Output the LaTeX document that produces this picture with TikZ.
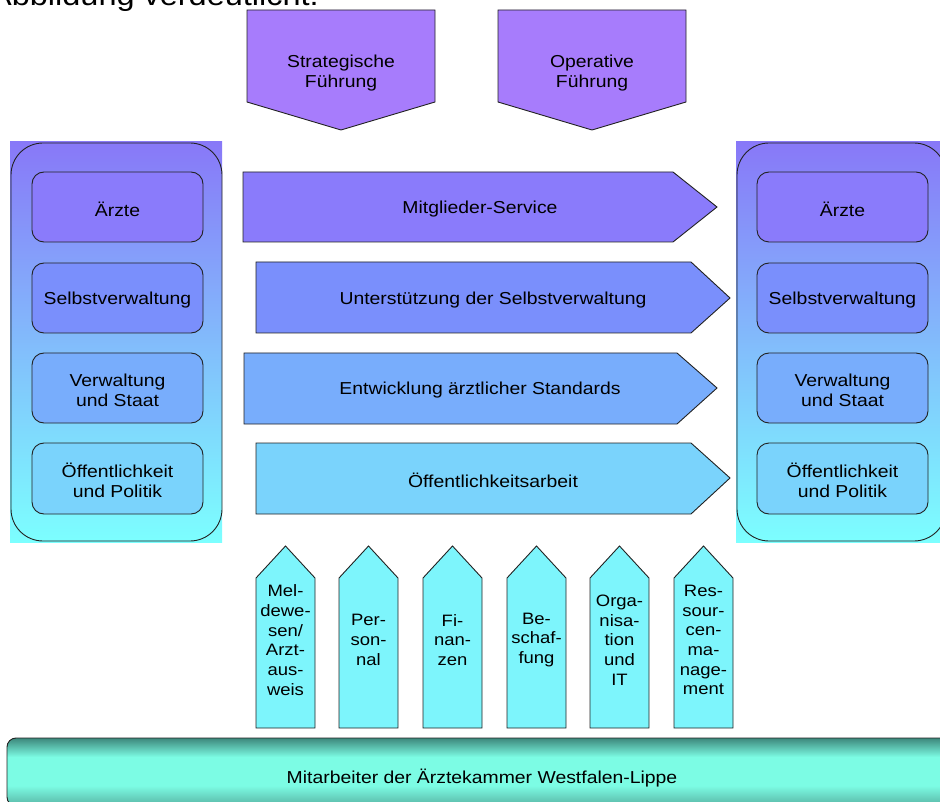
\documentclass[tikz,border=0pt]{standalone}
\usepackage{fontspec}
\setmainfont{Liberation Sans}[FakeStretch=1.12]
\definecolor{lilac}{HTML}{A77CFC}
\definecolor{cA}{HTML}{8A7BFB}
\definecolor{cB}{HTML}{7A8FFC}
\definecolor{cC}{HTML}{78ADFC}
\definecolor{cD}{HTML}{7AD3FC}
\definecolor{support}{HTML}{7DF5FC}
\definecolor{panelTop}{HTML}{8878F8}
\definecolor{panelMid}{HTML}{80B2FC}
\definecolor{panelBot}{HTML}{7CFFFF}
\definecolor{barDark}{HTML}{3D887C}
\definecolor{barLight}{HTML}{7CFCE4}
\definecolor{barLow}{HTML}{58B4A4}
\definecolor{edgegray}{HTML}{222222}
% staff bar: dark rim at the top, bright band, slightly darker bottom
\pgfdeclareverticalshading{barshade}{100bp}{
  color(0bp)=(barLow); color(25bp)=(barLow); color(40bp)=(barLight);
  color(61bp)=(barLight); color(75bp)=(barDark); color(100bp)=(barDark)}
\tikzset{
  edge/.style={draw=edgegray, line width=0.9pt},
  lbl/.style={font=\fontsize{17.3}{20}\selectfont, align=center, inner sep=0pt, yshift=-2.5pt},
  smalllbl/.style={font=\fontsize{16.5}{19.7}\selectfont, align=center, inner sep=0pt, yshift=-3pt},
  innerbox/.style={edge, rounded corners=12pt},
  panelframe/.style={edge, rounded corners=32pt},
}
\begin{document}
\begin{tikzpicture}[x=1pt,y=-1pt]
\useasboundingbox (0,0) rectangle (940,802);

% running text above the figure
\node[anchor=base west, inner sep=0pt, font=\fontsize{29}{34}\selectfont] (caption) at (-10,6) {Abbildung verdeutlicht.};

% management pentagons
\draw[edge, fill=lilac] (247,10) -- (435,10) -- (435,102) -- (341,130) -- (247,102) -- cycle;
\node[lbl] (strat) at (341,71) {Strategische\\Führung};
\draw[edge, fill=lilac] (498,10) -- (686,10) -- (686,102) -- (592,130) -- (498,102) -- cycle;
\node[lbl] (oper) at (592,71) {Operative\\Führung};

% stakeholder panels
\shade[top color=panelTop, middle color=panelMid, bottom color=panelBot] (10,142) rectangle (222,542);
\draw[panelframe] (11,143) rectangle (222,541);
\shade[top color=panelTop, middle color=panelMid, bottom color=panelBot] (736,142) rectangle (948,542);
\draw[panelframe] (737,143) rectangle (946,541);

\foreach \side/\xl/\xr in {L/32/203, R/757/928}{
  \draw[innerbox, fill=cA] (\xl,172) rectangle (\xr,242);
  \node[lbl] (aerzte\side) at ({(\xl+\xr)/2},207) {Ärzte};
  \draw[innerbox, fill=cB] (\xl,263) rectangle (\xr,333);
  \node[lbl] (selbst\side) at ({(\xl+\xr)/2},298) {Selbstverwaltung};
  \draw[innerbox, fill=cC] (\xl,353) rectangle (\xr,423);
  \node[lbl] (verw\side) at ({(\xl+\xr)/2},388) {Verwaltung\\und Staat};
  \draw[innerbox, fill=cD] (\xl,443) rectangle (\xr,514);
  \node[lbl] (oeff\side) at ({(\xl+\xr)/2},478) {Öffentlichkeit\\und Politik};
}

% core processes
\draw[edge, fill=cA] (243,172) -- (673,172) -- (717,207) -- (673,242) -- (243,242) -- cycle;
\node[lbl] (service) at (480,207) {Mitglieder-Service};
\draw[edge, fill=cB] (256,262) -- (691,262) -- (730,298) -- (691,333) -- (256,333) -- cycle;
\node[lbl] (unterst) at (493,298) {Unterstützung der Selbstverwaltung};
\draw[edge, fill=cC] (244,353) -- (677,353) -- (717,388) -- (677,424) -- (244,424) -- cycle;
\node[lbl] (standards) at (480,388) {Entwicklung ärztlicher Standards};
\draw[edge, fill=cD] (256,443) -- (691,443) -- (730,478) -- (691,514) -- (256,514) -- cycle;
\node[lbl] (pr) at (493,478) {Öffentlichkeitsarbeit};

% support processes
\foreach \i/\xl/\txt in {
  1/256/{Mel-\\dewe-\\sen/\\Arzt-\\aus-\\weis},
  2/339/{Per-\\son-\\nal},
  3/423/{Fi-\\nan-\\zen},
  4/507/{Be-\\schaf-\\fung},
  5/590/{Orga-\\nisa-\\tion\\und\\IT},
  6/674/{Res-\\sour-\\cen-\\ma-\\nage-\\ment}}{
  \draw[edge, fill=support] (\xl,728) -- (\xl,578) -- (\xl+29.5,546) -- (\xl+59,578) -- (\xl+59,728) -- cycle;
  \node[smalllbl] (support\i) at (\xl+29.5,637) {\txt};
}

% staff base bar
\shade[rounded corners=9pt, shading=barshade] (7,738) rectangle (960,806);
\draw[edge, rounded corners=9pt] (7,738) rectangle (960,806);
\node[lbl] (staff) at (482,776) {Mitarbeiter der Ärztekammer Westfalen-Lippe};
\end{tikzpicture}
\end{document}
